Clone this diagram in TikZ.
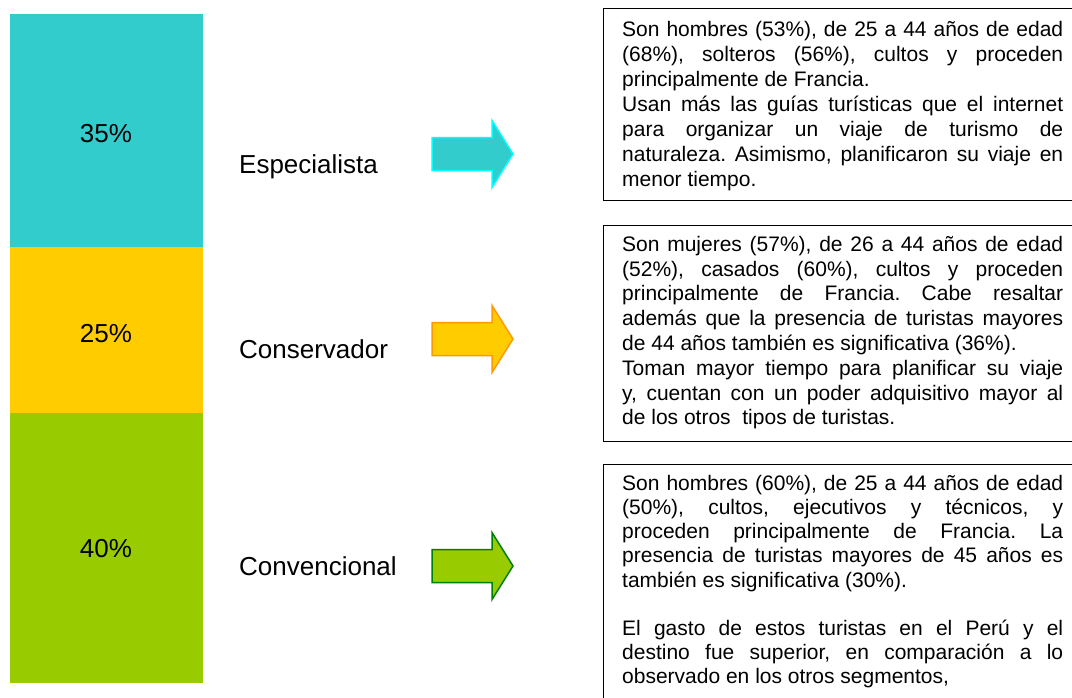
\documentclass[tikz,border=0pt]{standalone}
\usepackage{fontspec}
\setmainfont{Liberation Sans}
\setlength{\parindent}{0pt}
\frenchspacing
\hyphenpenalty=10000
\exhyphenpenalty=10000
\tolerance=10000
\definecolor{tealfill}{HTML}{33CCCC}
\definecolor{tealline}{HTML}{00FFFF}
\definecolor{yelfill}{HTML}{FFCC00}
\definecolor{yelline}{HTML}{FF9900}
\definecolor{grnfill}{HTML}{99CC00}
\definecolor{grnline}{HTML}{008000}
\newcommand{\segarrow}[3]{%
  \draw[fatarrow, fill=#2, draw=#3]
    (432,#1-16.5) -- (492,#1-16.5) -- (492,#1-33.5) -- (513,#1)
    -- (492,#1+33.5) -- (492,#1+16.5) -- (432,#1+16.5) -- cycle;}
\begin{document}
\begin{tikzpicture}[x=1pt,y=-1pt,
  seg/.style={rectangle, inner sep=0pt, outer sep=0pt, minimum width=193pt},
  pct/.style={font=\fontsize{26}{30}\selectfont, anchor=base, inner sep=0pt},
  lbl/.style={font=\fontsize{26}{30}\selectfont, anchor=base west, inner sep=0pt},
  infobox/.style={draw=black, line width=1.4pt, rectangle, inner sep=0pt, anchor=north west, minimum width=480pt},
  txt/.style={anchor=north west, inner sep=0pt, text width=441pt, align=justify},
  fatarrow/.style={line width=1.5pt, line join=miter}
]
\useasboundingbox (0,0) rectangle (1072,697);
\clip (0,0) rectangle (1072,697);

% stacked bar
\node[seg, fill=tealfill, minimum height=233pt] (s1) at (106.5,130.5) {};
\node[seg, fill=yelfill, minimum height=166pt] (s2) at (106.5,330) {};
\node[seg, fill=grnfill, minimum height=270pt] (s3) at (106.5,548) {};
\node[pct] (p1) at (106,142) {35\%};
\node[pct] (p2) at (106,342) {25\%};
\node[pct] (p3) at (106,557) {40\%};

% segment names
\node[lbl] (l1) at (239,173) {Especialista};
\node[lbl] (l2) at (239,358) {Conservador};
\node[lbl] (l3) at (239,575) {Convencional};

% arrows
\segarrow{154}{tealfill}{tealline}
\segarrow{339}{yelfill}{yelline}
\segarrow{566}{grnfill}{grnline}

% boxes
\node[infobox, minimum height=192pt] (b1) at (603,8) {};
\node[infobox, minimum height=216pt] (b2) at (603,225) {};
\node[infobox, minimum height=260pt] (b3) at (603,464) {};

\node[txt, font=\fontsize{21}{25}\selectfont] (t1) at (622,19) {\rule{0pt}{17pt}Son hombres (53\%), de 25 a 44 años de edad\linebreak
(68\%), solteros (56\%), cultos y proceden\linebreak
principalmente de Francia.\par
Usan más las guías turísticas que el internet\linebreak
para organizar un viaje de turismo de\linebreak
naturaleza. Asimismo, planificaron su viaje en\linebreak
menor tiempo.};

\node[txt, font=\fontsize{21}{24.8}\selectfont] (t2) at (622,234) {\rule{0pt}{17pt}Son mujeres (57\%), de 26 a 44 años de edad\linebreak
(52\%), casados (60\%), cultos y proceden\linebreak
principalmente de Francia. Cabe resaltar\linebreak
además que la presencia de turistas mayores\linebreak
de 44 años también es significativa (36\%).\par
Toman mayor tiempo para planificar su viaje\linebreak
y, cuentan con un poder adquisitivo mayor al\linebreak
de los otros\ \ tipos de turistas.};

\node[txt, font=\fontsize{21}{24.2}\selectfont] (t3) at (622,473) {\rule{0pt}{17pt}Son hombres (60\%), de 25 a 44 años de edad\linebreak
(50\%), cultos, ejecutivos y técnicos, y\linebreak
proceden principalmente de Francia. La\linebreak
presencia de turistas mayores de 45 años es\linebreak
también es significativa (30\%).\par\vspace{24.2pt}
El gasto de estos turistas en el Perú y el\linebreak
destino fue superior, en comparación a lo\linebreak
observado en los otros segmentos,};
\end{tikzpicture}
\end{document}
